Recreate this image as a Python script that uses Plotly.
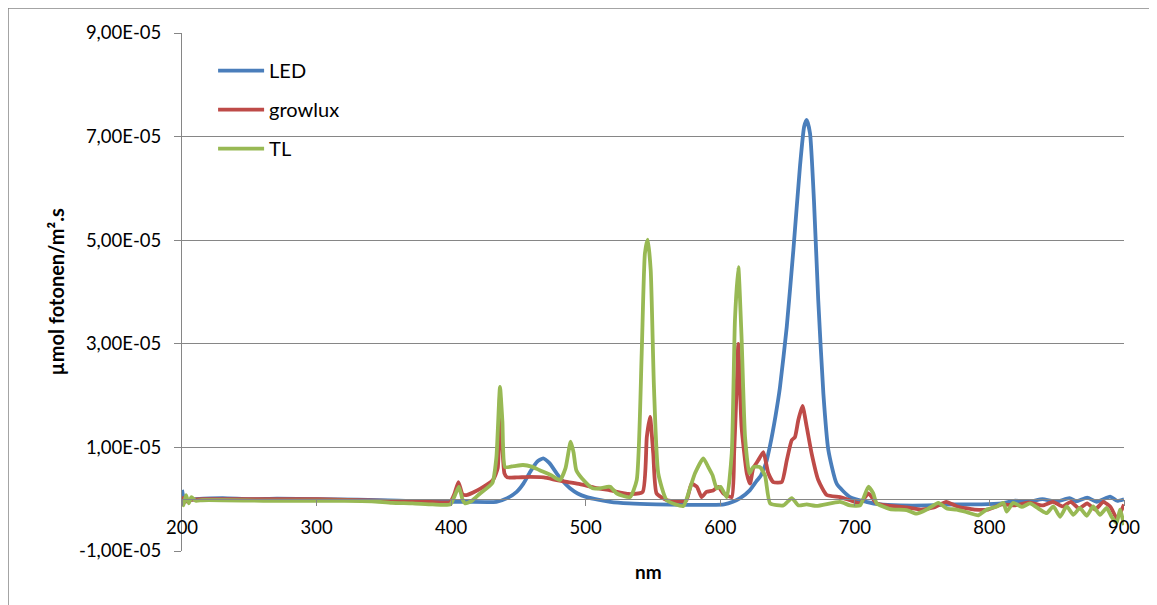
import plotly.graph_objects as go

# ---- data (values in units of 1E-05 µmol fotonen/m².s) ----
led_nm = [200, 202, 210.1, 230.2, 250.3, 270.5, 300.7, 330.9, 361.1, 391.3, 411.4, 433.6, 441.7, 448.7, 453.7,
          458.8, 463.8, 468.4, 472.9, 478.4, 482.9, 488.3, 494, 500.8, 509.1, 518.2, 532.3, 552.4, 572.6, 592.7,
          602.8, 609.4, 614.8, 621.9, 626.9, 630, 634, 637, 641, 644.3, 649.4, 654.3, 659.2, 662.3, 664.2,
          666.7, 669.6, 672.8, 676.6, 680.3, 686.5, 696.4, 708.5, 718.6, 733.7, 753.8, 773.9, 794.1, 809.2,
          819.2, 829.3, 839.4, 849.5, 859.5, 864.6, 872.6, 879.7, 889.7, 894.8, 900]
led_val = [0.18, -0.02, 0.0, 0.02, 0.0, 0.01, 0.0, -0.01, -0.03, -0.05, -0.05, -0.05, 0.02, 0.14, 0.3, 0.53,
           0.72, 0.79, 0.7, 0.5, 0.35, 0.21, 0.11, 0.04, -0.01, -0.05, -0.08, -0.1, -0.11, -0.11, -0.1, -0.05,
           0.02, 0.17, 0.35, 0.45, 0.7, 1.04, 1.6, 2.15, 3.33, 4.81, 6.42, 7.19, 7.32, 7.06, 5.77, 3.84, 2.04,
           0.95, 0.3, 0.04, -0.05, -0.1, -0.12, -0.12, -0.1, -0.1, -0.08, -0.03, -0.05, 0.0, -0.05, 0.02,
           -0.04, 0.03, -0.05, 0.05, -0.03, 0.0]

growlux_nm = [200, 202, 205, 215.1, 240.3, 270.5, 300.7, 330.9, 361.1, 381.2, 399.4, 402.4, 405.4, 408.4, 411.4,
              421.5, 431.1, 434.6, 436.3, 438.1, 439.6, 441.7, 448.7, 458.8, 468.8, 478.4, 487, 495.7, 507.1,
              518.2, 532.3, 542.3, 545.4, 547.8, 550.2, 552.7, 560.5, 574.6, 578.6, 582.6, 586.1, 589.7, 594.7,
              598.5, 602.3, 608.5, 610.3, 612.2, 613.4, 615.8, 619.7, 622.1, 624.5, 628.2, 632, 635.7, 639.4,
              645.7, 649.4, 653.1, 655.5, 658, 661.1, 664.2, 667.9, 672.8, 679.1, 689, 696.4, 703.9, 710, 716.2,
              723.6, 738.7, 748.8, 758.8, 767.9, 776, 789, 799.1, 809.2, 819.2, 829.3, 839.4, 847.3, 854.5,
              860.5, 866.5, 872.6, 878.6, 884.7, 890, 894.8, 900]
growlux_val = [0.05, -0.05, -0.02, 0.0, 0.0, 0.0, 0.0, -0.02, -0.04, -0.05, -0.05, 0.1, 0.33, 0.1, 0.08, 0.2,
               0.37, 0.6, 2.0, 1.0, 0.5, 0.42, 0.42, 0.43, 0.42, 0.37, 0.33, 0.29, 0.22, 0.17, 0.1, 0.14, 1.2,
               1.59, 0.88, 0.11, -0.02, -0.03, 0.3, 0.24, 0.04, 0.14, 0.17, 0.24, 0.11, 0.04, 0.9, 2.17, 3.0,
               1.4, 0.5, 0.3, 0.6, 0.75, 0.91, 0.5, 0.33, 0.33, 0.75, 1.14, 1.2, 1.53, 1.8, 1.4, 0.88, 0.37,
               0.08, 0.04, -0.02, -0.08, 0.11, -0.08, -0.12, -0.16, -0.2, -0.16, -0.05, -0.14, -0.2, -0.2,
               -0.1, -0.12, -0.06, -0.12, -0.05, -0.14, -0.05, -0.18, -0.08, -0.2, -0.05, -0.15, -0.37, -0.1]

tl_nm = [200, 201, 203, 205, 207, 210.1, 215.1, 230.2, 260.4, 290.6, 320.8, 341, 356.1, 371.2, 386.3, 399.4,
         402.4, 405.8, 408.4, 410.4, 415.5, 421.5, 430.6, 433.6, 436.3, 438.1, 440.1, 446.7, 453.4, 459.8,
         465.8, 473.9, 480.9, 485, 488.8, 491, 493, 499, 505.1, 510.6, 515.8, 518.2, 523.2, 532.9, 537.9,
         541.6, 544, 546.1, 548.3, 550.7, 553.9, 560.2, 572.6, 577, 581.2, 587.4, 591.1, 594.3, 597.3, 600.2,
         604.8, 608.5, 610.9, 613.4, 615.8, 618.4, 621.6, 624.5, 629.5, 633.3, 637, 646.9, 653.1, 658.1,
         664.2, 671.6, 689, 696.4, 703.9, 710, 713.7, 716.2, 726.1, 738.5, 745.9, 753.4, 762.1, 768.3, 775.6,
         783.1, 791.8, 798, 805.5, 810.4, 812.8, 817.7, 824, 830.1, 837.6, 842.6, 847.5, 852.5, 857.4, 862.4,
         867.2, 872.3, 877.1, 882.2, 887.1, 890.8, 894.5, 897, 900]
tl_val = [0.0, -0.12, 0.08, -0.08, 0.04, -0.03, -0.02, -0.02, -0.03, -0.03, -0.03, -0.04, -0.07, -0.08, -0.1,
          -0.1, 0.05, 0.24, 0.0, -0.08, -0.03, 0.11, 0.31, 0.8, 2.17, 1.5, 0.62, 0.64, 0.66, 0.63, 0.56, 0.47,
          0.37, 0.6, 1.11, 0.9, 0.56, 0.35, 0.21, 0.21, 0.24, 0.24, 0.11, 0.04, 0.37, 2.82, 4.75, 5.01, 4.42,
          2.17, 0.5, -0.02, -0.13, 0.17, 0.5, 0.79, 0.62, 0.46, 0.21, 0.24, 0.04, 0.88, 3.46, 4.48, 3.13, 1.2,
          0.5, 0.62, 0.62, 0.45, -0.08, -0.12, 0.02, -0.12, -0.1, -0.13, -0.05, -0.12, -0.12, 0.24, 0.11,
          -0.08, -0.19, -0.21, -0.28, -0.2, -0.07, -0.18, -0.2, -0.25, -0.31, -0.2, -0.14, -0.07, -0.24, -0.07,
          -0.15, -0.08, -0.2, -0.27, -0.14, -0.34, -0.14, -0.3, -0.17, -0.32, -0.14, -0.3, -0.17, -0.34, -0.46,
          -0.2, -0.5]

UNIT = 1e-5
x_ticks = [200, 300, 400, 500, 600, 700, 800, 900]
y_ticks = [-1e-5, 1e-5, 3e-5, 5e-5, 7e-5, 9e-5]
y_ticktext = ["-1,00E-05", "1,00E-05", "3,00E-05", "5,00E-05", "7,00E-05", "9,00E-05"]
x_title = "nm"
y_title = "µmol fotonen/m².s"

series = [
    ("LED", led_nm, led_val, "#4A7EBB"),
    ("growlux", growlux_nm, growlux_val, "#BE4B48"),
    ("TL", tl_nm, tl_val, "#98B954"),
]

FONT = "Lato"
GRID = "#868686"
ML, MR, MT, MB = 174, 41, 25, 62
PW, PH = 1157 - ML - MR, 605 - MT - MB

fig = go.Figure()
for name, xs, vs, col in series:
    fig.add_trace(go.Scatter(
        x=xs, y=[v * UNIT for v in vs], mode="lines", name=name, legendgroup=name,
        line=dict(color=col, width=3.8, shape="spline", smoothing=0.5),
    ))

fig.update_layout(
    width=1157, height=605,
    margin=dict(l=ML, r=MR, t=MT, b=MB),
    paper_bgcolor="white", plot_bgcolor="white",
    font=dict(family=FONT, size=18, color="#000000"),
    showlegend=True,
    legend=dict(x=0.033, y=0.965, xanchor="left", yanchor="top", bgcolor="rgba(0,0,0,0)",
                font=dict(family=FONT, size=20, color="#000000"), tracegroupgap=10, itemwidth=46),
    xaxis=dict(range=[200, 900], tickvals=x_ticks, ticktext=[str(t) for t in x_ticks],
               anchor="free", position=0.1, showline=True, linecolor=GRID, linewidth=1,
               ticks="outside", ticklen=6, tickcolor=GRID, showgrid=False, zeroline=False,
               ticklabelstandoff=6, tickfont=dict(size=18.5), automargin=False),
    yaxis=dict(range=[-1e-5, 9e-5], tickvals=y_ticks, ticktext=y_ticktext,
               showline=True, linecolor=GRID, linewidth=1, ticks="outside", ticklen=7, tickcolor=GRID,
               showgrid=True, gridcolor=GRID, gridwidth=1, zeroline=False,
               ticklabelstandoff=9, tickfont=dict(size=18.5), automargin=False),
    annotations=[
        dict(text="<b>" + x_title + "</b>", xref="paper", yref="paper", x=0.495, y=-0.0405,
             xanchor="center", yanchor="middle", showarrow=False, font=dict(size=19)),
        dict(text="<b>" + y_title + "</b>", xref="paper", yref="paper", x=-0.1333, y=0.5,
             xanchor="center", yanchor="middle", textangle=-90, showarrow=False, font=dict(size=20)),
    ],
    shapes=[dict(type="rect", xref="paper", yref="paper",
                 x0=-ML / PW, x1=1 + (MR - 1) / PW, y0=-(MB - 1) / PH, y1=1 + MT / PH,
                 line=dict(color=GRID, width=1.5), fillcolor="rgba(0,0,0,0)", layer="below")],
)

fig.write_html("out.html")
